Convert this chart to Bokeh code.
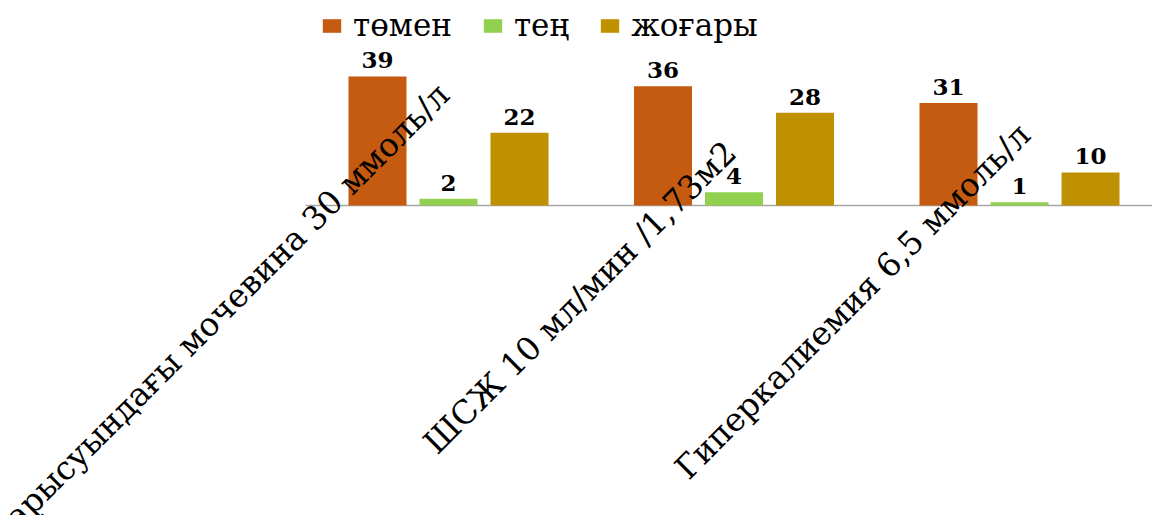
import math
import numpy as np
from bokeh.plotting import figure
from bokeh.models import ColumnDataSource, Range1d, Legend, LegendItem
from bokeh.core.properties import value
from bokeh.embed import file_html
from bokeh.resources import INLINE

# Data
categories = [
    "Қан сарысуындағы мочевина 30 ммоль/л",
    "ШСЖ 10 мл/мин /1,73м2",
    "Гиперкалиемия 6,5 ммоль/л",
]
series_names = ["төмен", "тең", "жоғары"]
tomen = [39, 36, 31]
ten = [2, 4, 1]
zhogary = [22, 28, 10]

colors = ["#C55A11", "#92D050", "#BF9000"]
series_values = [tomen, ten, zhogary]

W, H = 1152, 515
FONT = "DejaVu Serif"

p = figure(
    width=W, height=H,
    x_range=Range1d(-1.0692, 2.9658),
    y_range=Range1d(-93.66, 61.93),
    x_axis_location=None, y_axis_location=None,
    toolbar_location=None, output_backend="svg",
    min_border=0, outline_line_color=None,
)
p.xgrid.visible = False
p.ygrid.visible = False
p.background_fill_color = "white"
p.border_fill_color = "white"

n = len(categories)
centers = np.arange(n) + 0.5
bar_w = 0.2032
step = 0.2487
offsets = [-step, 0.0, step]

# category baseline
p.segment(x0=[0], x1=[n], y0=[0], y1=[0], line_color="#A6A6A6", line_width=1.5)

legend_items = []
for name, vals, col, off in zip(series_names, series_values, colors, offsets):
    src = ColumnDataSource(dict(
        x=centers + off,
        top=vals,
        label=[str(v) for v in vals],
    ))
    r = p.vbar(x="x", top="top", bottom=0, width=bar_w, source=src,
               fill_color=col, line_color=None)
    p.text(x="x", y="top", text="label", source=src,
           text_align="center", text_baseline="alphabetic", y_offset=-16,
           text_font=value(FONT), text_font_style="bold",
           text_font_size="23px", text_color="black")
    legend_items.append(LegendItem(label=name, renderers=[r]))

# rotated category labels, anchored at their right end
lab_src = ColumnDataSource(dict(
    x=centers, y=[0] * n, text=categories,
    dx=[-5, -3.5, 5], dy=[-116, -58.5, -76],
))
p.text(x="x", y="y", text="text", source=lab_src,
       x_offset="dx", y_offset="dy", angle=math.pi / 4,
       text_align="right", text_baseline="middle",
       text_font=value(FONT), text_font_size="32.5px", text_color="black")

legend = Legend(
    items=legend_items, orientation="horizontal",
    location=(320, 472), label_text_font=FONT, label_text_font_size="31px",
    label_text_color="black",
    glyph_width=23, glyph_height=17, label_standoff=10, spacing=29,
    padding=0, margin=0, border_line_color=None, background_fill_alpha=0,
)
p.add_layout(legend, "center")

open("out.html", "w").write(file_html(p, INLINE))
